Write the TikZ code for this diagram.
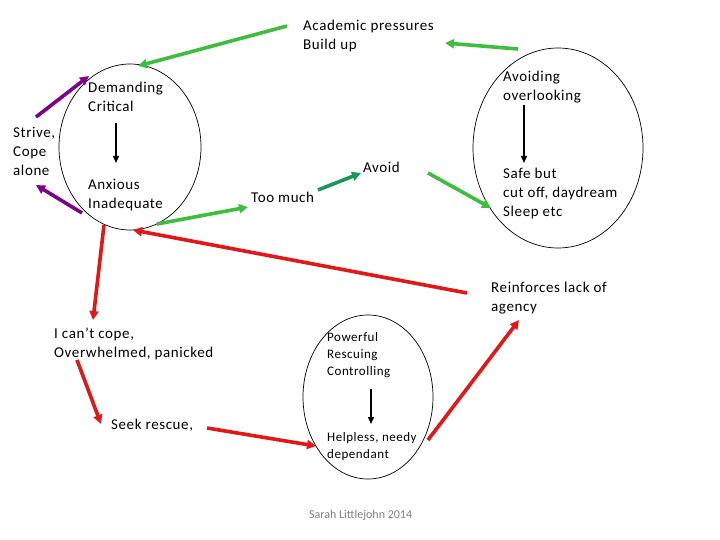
\documentclass[tikz,border=0pt]{standalone}
\usepackage{fontspec}
\setmainfont{Carlito}[LetterSpace=4]
\newfontfamily\sigfont{Carlito}
\usetikzlibrary{arrows.meta,shapes.geometric}
\definecolor{cgreen}{RGB}{62,190,62}
\definecolor{cdgreen}{RGB}{30,150,85}
\definecolor{cpurple}{RGB}{128,0,140}
\definecolor{cred}{RGB}{228,22,22}
\begin{document}
\begin{tikzpicture}[x=1pt,y=-1pt,
  lbl/.style={anchor=base west,inner sep=0pt,align=left,font=\fontsize{15}{19}\selectfont},
  slbl/.style={anchor=base west,inner sep=0pt,align=left,font=\fontsize{13}{17}\selectfont},
  oval/.style={draw,ellipse,line width=0.7pt,inner sep=0pt},
  garrow/.style={line width=3.6pt,cgreen,-{Triangle[length=9pt,width=9pt]}},
  dgarrow/.style={line width=3.6pt,cdgreen,-{Triangle[length=9pt,width=9pt]}},
  parrow/.style={line width=3.6pt,cpurple,-{Triangle[length=9pt,width=9pt]}},
  rarrow/.style={line width=3.6pt,cred,-{Triangle[length=9pt,width=9pt]}},
  karrow/.style={line width=1.4pt,black,-{Triangle[length=7pt,width=6pt]}}]
\useasboundingbox[fill=white] (0,0) rectangle (720,540);

% ovals
\node[oval,minimum width=142pt,minimum height=166pt] (lo) at (130,147) {};
\node[oval,minimum width=170pt,minimum height=200pt] (ro) at (558,148) {};
\node[oval,minimum width=130pt,minimum height=164pt] (bo) at (368,397) {};

% texts (anchored at the baseline of the last line)
\node[lbl] (acad) at (303,50) {Academic pressures\\Build up};
\node[lbl] (dem) at (88,112) {Demanding\\Critical};
\node[lbl] (strive) at (13,176) {Strive,\\Cope\\alone};
\node[lbl] (anx) at (88,208) {Anxious\\Inadequate};
\node[lbl] (too) at (251,203) {Too much};
\node[lbl] (avoid) at (363,173) {Avoid};
\node[lbl] (avoiding) at (503,101) {Avoiding\\overlooking};
\node[lbl] (safe) at (503,217) {Safe but\\cut off, daydream\\Sleep etc};
\node[lbl] (reinf) at (491,311) {Reinforces lack of\\agency};
\node[lbl] (cope) at (54,357) {I can’t cope,\\Overwhelmed, panicked};
\node[lbl] (seek) at (111,429) {Seek rescue,};
\node[slbl] (pow) at (327,375) {Powerful\\Rescuing\\Controlling};
\node[slbl] (help) at (327,458) {Helpless, needy\\dependant};
\node[anchor=base west,inner sep=0pt,text=gray,font=\sigfont\fontsize{12}{14}\selectfont] (sarah) at (309,518) {Sarah Littlejohn 2014};

% coordinates for arrow ends
\coordinate (g1s) at (287,26); \coordinate (g1e) at (138,66);
\coordinate (g2s) at (518,49); \coordinate (g2e) at (445,43);
\coordinate (g3s) at (157,224); \coordinate (g3e) at (248,207);
\coordinate (g4s) at (318,190); \coordinate (g4e) at (361,173);
\coordinate (g5s) at (428,173); \coordinate (g5e) at (491,208);
\coordinate (p1s) at (36,117); \coordinate (p1e) at (89,76);
\coordinate (p2s) at (82,213); \coordinate (p2e) at (36,185);
\coordinate (r1s) at (104,225); \coordinate (r1e) at (93,320);
\coordinate (r2s) at (467,293); \coordinate (r2e) at (133,230);
\coordinate (r3s) at (77,360); \coordinate (r3e) at (101,424);
\coordinate (r4s) at (207,428); \coordinate (r4e) at (316,446);
\coordinate (r5s) at (428,440); \coordinate (r5e) at (519,320);
\coordinate (k1s) at (116,123); \coordinate (k1e) at (116,163);
\coordinate (k2s) at (524,105); \coordinate (k2e) at (524,163);
\coordinate (k3s) at (371,389); \coordinate (k3e) at (371,424);

\draw[garrow] (g1s) -- (g1e);
\draw[garrow] (g2s) -- (g2e);
\draw[garrow] (g3s) -- (g3e);
\draw[dgarrow] (g4s) -- (g4e);
\draw[garrow] (g5s) -- (g5e);
\draw[parrow] (p1s) -- (p1e);
\draw[parrow] (p2s) -- (p2e);
\draw[rarrow] (r1s) -- (r1e);
\draw[rarrow] (r2s) -- (r2e);
\draw[rarrow] (r3s) -- (r3e);
\draw[rarrow] (r4s) -- (r4e);
\draw[rarrow] (r5s) -- (r5e);
\draw[karrow] (k1s) -- (k1e);
\draw[karrow] (k2s) -- (k2e);
\draw[karrow] (k3s) -- (k3e);
\end{tikzpicture}
\end{document}
